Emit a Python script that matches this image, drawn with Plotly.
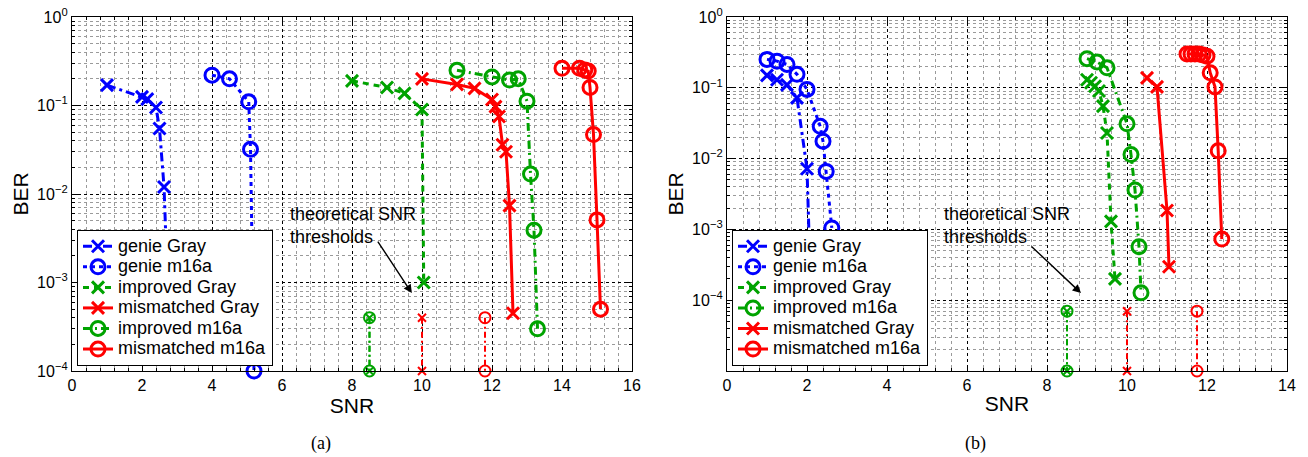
import plotly.graph_objects as go

# ---------------- data: panel (a) ----------------
a_genie_gray_snr = [1.0, 2.0, 2.15, 2.4, 2.5, 2.63, 2.7, 2.75]
a_genie_gray_ber = [0.17, 0.125, 0.118, 0.095, 0.055, 0.012, 2e-3, 2e-4]
a_genie_m16a_snr = [4.0, 4.5, 5.05, 5.1, 5.2]
a_genie_m16a_ber = [0.22, 0.2, 0.11, 0.032, 1e-4]
a_impr_gray_snr = [8.0, 9.0, 9.5, 10.0, 10.05]
a_impr_gray_ber = [0.19, 0.16, 0.137, 0.09, 1e-3]
a_mism_gray_snr = [10.0, 11.0, 11.5, 12.0, 12.1, 12.2, 12.3, 12.4, 12.5, 12.6]
a_mism_gray_ber = [0.2, 0.173, 0.156, 0.117, 0.097, 0.075, 0.036, 0.03, 0.0074, 4.5e-4]
a_impr_m16a_snr = [11.0, 12.0, 12.5, 12.75, 13.0, 13.1, 13.2, 13.3]
a_impr_m16a_ber = [0.25, 0.21, 0.194, 0.2, 0.112, 0.0168, 0.0039, 3.0e-4]
a_mism_m16a_snr = [14.0, 14.5, 14.65, 14.75, 14.8, 14.9, 15.0, 15.1]
a_mism_m16a_ber = [0.263, 0.263, 0.252, 0.245, 0.16, 0.047, 0.0051, 5e-4]
a_thr_ber = [4e-4, 1e-4]
a_thr_impr_snr = [8.5, 8.5]
a_thr_mism_gray_snr = [10.0, 10.0]
a_thr_mism_m16a_snr = [11.8, 11.8]

# ---------------- data: panel (b) ----------------
b_genie_gray_snr = [1.0, 1.25, 1.5, 1.75, 2.0, 2.1]
b_genie_gray_ber = [0.15, 0.13, 0.11, 0.072, 0.0072, 1e-4]
b_genie_m16a_snr = [1.0, 1.25, 1.5, 1.75, 2.0, 2.33, 2.4, 2.48, 2.62]
b_genie_m16a_ber = [0.252, 0.238, 0.214, 0.155, 0.095, 0.0286, 0.0176, 0.0066, 1.05e-3]
b_impr_gray_snr = [9.0, 9.1, 9.2, 9.3, 9.4, 9.5, 9.6, 9.7]
b_impr_gray_ber = [0.13, 0.118, 0.105, 0.09, 0.055, 0.023, 1.3e-3, 2e-4]
b_impr_m16a_snr = [9.0, 9.25, 9.5, 10.0, 10.1, 10.2, 10.3, 10.35]
b_impr_m16a_ber = [0.258, 0.231, 0.192, 0.031, 0.0114, 3.6e-3, 5.7e-4, 1.27e-4]
b_mism_gray_snr = [10.5, 10.75, 11.0, 11.05]
b_mism_gray_ber = [0.138, 0.103, 1.85e-3, 2.97e-4]
b_mism_m16a_snr = [11.5, 11.6, 11.7, 11.8, 11.9, 12.0, 12.08, 12.2, 12.28, 12.37]
b_mism_m16a_ber = [0.3, 0.3, 0.3, 0.3, 0.29, 0.28, 0.163, 0.103, 0.0129, 7.3e-4]
b_thr_ber = [7e-5, 1e-5]
b_thr_impr_snr = [8.5, 8.5]
b_thr_mism_gray_snr = [10.0, 10.0]
b_thr_mism_m16a_snr = [11.75, 11.75]

names = ["genie Gray", "genie m16a", "improved Gray", "improved m16a",
         "mismatched Gray", "mismatched m16a"]
tick_exps = [0, -1, -2, -3, -4]

BLUE = "#0000ff"
GREEN = "#00a300"
RED = "#ff0000"
FONT = "Liberation Sans, Arial, sans-serif"

fig = go.Figure()


def add(x, y, name, color, dash, sym, xa, ya, legend, showlegend=True,
        msize=None, lw=3):
    circle = sym == "circle-open"
    if msize is None:
        msize = 14 if circle else 12
    label = '<span style="font-size:18px">%s</span>' % name if name else ""
    fig.add_trace(go.Scatter(
        x=x, y=y, name=label, mode="lines+markers",
        line=dict(color=color, width=lw, dash=dash),
        marker=dict(symbol=sym, size=msize, color=color,
                    line=dict(color=color, width=lw)),
        xaxis=xa, yaxis=ya, legend=legend, showlegend=showlegend,
        cliponaxis=False))


XS = "x-thin-open"
CO = "circle-open"
THR = "6px,3px,2px,3px"
# panel (a), legend order: genie Gray, genie m16a, improved Gray, mismatched Gray, improved m16a, mismatched m16a
add(a_genie_gray_snr, a_genie_gray_ber, names[0], BLUE, "9px,4px,3px,4px", XS, "x", "y", "legend")
add(a_genie_m16a_snr, a_genie_m16a_ber, names[1], BLUE, "4px,4px", CO, "x", "y", "legend")
add(a_impr_gray_snr, a_impr_gray_ber, names[2], GREEN, "6px,5px", XS, "x", "y", "legend")
add(a_mism_gray_snr, a_mism_gray_ber, names[4], RED, "solid", XS, "x", "y", "legend")
add(a_impr_m16a_snr, a_impr_m16a_ber, names[3], GREEN, "8px,4px,2px,4px", CO, "x", "y", "legend")
add(a_mism_m16a_snr, a_mism_m16a_ber, names[5], RED, "solid", CO, "x", "y", "legend")
# thresholds (a)
add(a_thr_impr_snr, a_thr_ber, "", GREEN, THR, CO, "x", "y", "legend", False, 11, 2)
add(a_thr_impr_snr, a_thr_ber, "", GREEN, THR, XS, "x", "y", "legend", False, 7, 2)
add(a_thr_mism_gray_snr, a_thr_ber, "", RED, THR, XS, "x", "y", "legend", False, 8, 2)
add(a_thr_mism_m16a_snr, a_thr_ber, "", RED, THR, CO, "x", "y", "legend", False, 11, 2)

# panel (b), legend order: genie Gray, genie m16a, improved Gray, improved m16a, mismatched Gray, mismatched m16a
add(b_genie_gray_snr, b_genie_gray_ber, names[0], BLUE, "9px,4px,3px,4px", XS, "x2", "y2", "legend2")
add(b_genie_m16a_snr, b_genie_m16a_ber, names[1], BLUE, "4px,4px", CO, "x2", "y2", "legend2")
add(b_impr_gray_snr, b_impr_gray_ber, names[2], GREEN, "6px,5px", XS, "x2", "y2", "legend2")
add(b_impr_m16a_snr, b_impr_m16a_ber, names[3], GREEN, "8px,4px,2px,4px", CO, "x2", "y2", "legend2")
add(b_mism_gray_snr, b_mism_gray_ber, names[4], RED, "solid", XS, "x2", "y2", "legend2")
add(b_mism_m16a_snr, b_mism_m16a_ber, names[5], RED, "solid", CO, "x2", "y2", "legend2")
add(b_thr_impr_snr, b_thr_ber, "", GREEN, THR, CO, "x2", "y2", "legend2", False, 11, 2)
add(b_thr_impr_snr, b_thr_ber, "", GREEN, THR, XS, "x2", "y2", "legend2", False, 7, 2)
add(b_thr_mism_gray_snr, b_thr_ber, "", RED, THR, XS, "x2", "y2", "legend2", False, 8, 2)
add(b_thr_mism_m16a_snr, b_thr_ber, "", RED, THR, CO, "x2", "y2", "legend2", False, 11, 2)

W, H = 1308, 457
ytop, ybot = 17, 371
dom_y = [1 - ybot / H, 1 - ytop / H]


def xaxis(lo, hi, x0, x1):
    return dict(
        domain=[x0 / W, x1 / W], range=[lo, hi], dtick=2, tick0=0,
        automargin=False,
        showline=True, linecolor="black", linewidth=1.3, mirror="allticks",
        ticks="inside", ticklen=6, tickcolor="black",
        showgrid=True, gridcolor="black", griddash="dot", gridwidth=1,
        zeroline=False,
        minor=dict(dtick=0.4, tick0=0, showgrid=True, gridcolor="#9a9a9a",
                   griddash="dot", gridwidth=1, ticks="inside", ticklen=3,
                   tickcolor="black"),
        tickfont=dict(family=FONT, size=16, color="black"),
        title=dict(text="SNR", font=dict(family=FONT, size=21, color="black"),
                   standoff=2),
    )


def minor_vals(lo_exp):
    vals = []
    for e in range(lo_exp, 0):
        for m in range(2, 10):
            vals.append(m * 10 ** e)
    return vals


def yaxis(lo_exp, xanchor, labels):
    return dict(
        domain=dom_y, type="log", range=[lo_exp, 0], anchor=xanchor,
        automargin=False,
        tickmode="array", tickvals=[10 ** e for e in labels],
        ticktext=["10<sup>%s</sup>" % ("\u2212%d" % -e if e < 0 else "0") for e in labels],
        showline=True, linecolor="black", linewidth=1.3, mirror="allticks",
        ticks="inside", ticklen=6, tickcolor="black",
        showgrid=True, gridcolor="black", griddash="dot", gridwidth=1,
        zeroline=False,
        minor=dict(tickmode="array", tickvals=minor_vals(lo_exp), showgrid=True,
                   gridcolor="#9a9a9a", griddash="dot", gridwidth=1,
                   ticks="inside", ticklen=3, tickcolor="black"),
        tickfont=dict(family=FONT, size=16, color="black"),
        title=dict(text="BER", font=dict(family=FONT, size=21, color="black"),
                   standoff=2),
    )


xa = xaxis(0, 16, 72, 632)
xa["anchor"] = "y"
xb = xaxis(0, 14, 727, 1287)
xb["anchor"] = "y2"

legend_style = dict(
    bgcolor="white", bordercolor="black", borderwidth=1,
    font=dict(family=FONT, size=13.5, color="black"),
    xanchor="left", yanchor="bottom", tracegroupgap=0, itemwidth=30,
    traceorder="normal",
)

ann_font = dict(family=FONT, size=18, color="black")
serif = dict(family="Liberation Serif, Times New Roman, serif", size=18, color="black")
annotations = [
    dict(x=6.17, y=-2.36, xref="x", yref="y", text="theoretical SNR<br>thresholds",
         showarrow=False, xanchor="left", yanchor="middle", align="left", font=ann_font),
    dict(x=9.71, y=-3.12, xref="x", yref="y", ax=8.71, ay=-2.52, axref="x", ayref="y",
         text="", showarrow=True, arrowhead=2, arrowsize=1.2, arrowwidth=1.4,
         arrowcolor="black"),
    dict(x=5.375, y=-2.95, xref="x2", yref="y2", text="theoretical SNR<br>thresholds",
         showarrow=False, xanchor="left", yanchor="middle", align="left", font=ann_font),
    dict(x=8.85, y=-3.9, xref="x2", yref="y2", ax=7.575, ay=-3.22, axref="x2", ayref="y2",
         text="", showarrow=True, arrowhead=2, arrowsize=1.2, arrowwidth=1.4,
         arrowcolor="black"),
    dict(x=321 / W, y=1 - 443 / H, xref="paper", yref="paper", text="(a)",
         xanchor="center", yanchor="middle", showarrow=False, font=serif),
    dict(x=975 / W, y=1 - 443 / H, xref="paper", yref="paper", text="(b)",
         xanchor="center", yanchor="middle", showarrow=False, font=serif),
]

fig.update_layout(
    width=W, height=H,
    margin=dict(l=0, r=0, t=0, b=0, autoexpand=False),
    paper_bgcolor="white", plot_bgcolor="white",
    xaxis=xa, yaxis=yaxis(-4, "x", tick_exps),
    xaxis2=xb, yaxis2=yaxis(-5, "x2", tick_exps),
    legend=dict(x=77 / W, y=1 - 366 / H, **legend_style),
    legend2=dict(x=732 / W, y=1 - 366 / H, **legend_style),
    annotations=annotations,
    font=dict(family=FONT),
)

fig.write_html("out.html", config={"displayModeBar": False},
               post_script="document.body.style.margin='0';document.body.style.overflow='hidden';")
